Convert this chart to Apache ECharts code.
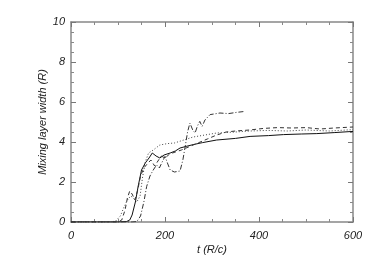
<!DOCTYPE html>
<html>
<head>
<meta charset="utf-8">
<script src="https://cdn.jsdelivr.net/npm/echarts@6/dist/echarts.min.js"></script>
<style>
  html, body { margin: 0; padding: 0; background: #fff; }
  #chart { width: 374px; height: 267px; }
</style>
</head>
<body>
<div id="chart"></div>
<script>
// time (R/c) and mixing layer width (R) for each run
var tSolid = [0, 100, 118, 125, 130, 137, 143, 150, 158, 166, 173, 181, 189, 198, 211, 222, 232, 245, 260, 280, 310, 350, 381, 420, 452, 490, 523, 560, 600]
var wSolid = [0, 0, 0.02, 0.1, 0.35, 1.0, 1.8, 2.6, 2.95, 3.2, 3.45, 3.3, 3.2, 3.35, 3.45, 3.55, 3.7, 3.78, 3.87, 3.97, 4.1, 4.18, 4.28, 4.32, 4.37, 4.4, 4.42, 4.47, 4.53]

var tDot = [0, 85, 95, 105, 112, 120, 127, 133, 140, 147, 152, 158, 165, 175, 189, 205, 220, 240, 260, 290, 310, 350, 381, 420, 460, 500, 550, 600]
var wDot = [0, 0, 0.05, 0.3, 0.7, 1.1, 1.3, 1.2, 1.0, 1.3, 2.2, 3.0, 3.45, 3.6, 3.85, 3.92, 3.95, 4.1, 4.25, 4.37, 4.45, 4.5, 4.55, 4.58, 4.55, 4.6, 4.55, 4.62]

var tDash = [0, 100, 108, 115, 120, 125, 130, 136, 142, 148, 155, 162, 170, 178, 185, 192, 200, 210, 222, 235, 250, 270, 290, 310, 330, 350, 380, 410, 440, 470, 500, 530, 560, 600]
var wDash = [0, 0, 0.1, 0.6, 1.2, 1.55, 1.4, 1.1, 1.6, 2.3, 2.7, 2.9, 3.1, 2.8, 3.05, 3.3, 3.2, 3.4, 3.5, 3.6, 3.75, 3.95, 4.15, 4.35, 4.5, 4.55, 4.6, 4.68, 4.72, 4.7, 4.72, 4.65, 4.7, 4.75]

var tDashDot = [0, 130, 140, 148, 155, 161, 168, 175, 182, 188, 194, 200, 206, 211, 220, 232, 238, 243, 248, 253, 259, 264, 269, 274, 279, 285, 296, 317, 335, 352, 370]
var wDashDot = [0, 0, 0.02, 0.3, 1.0, 1.78, 2.3, 2.6, 2.85, 2.7, 3.0, 3.28, 2.9, 2.6, 2.5, 2.55, 3.1, 3.78, 4.5, 4.95, 4.6, 4.45, 4.8, 5.03, 4.78, 5.1, 5.37, 5.45, 5.42, 5.48, 5.53]

var xTicks = [0, 200, 400, 600]
var yTicks = [0, 2, 4, 6, 8, 10]

function pairs(t, w) {
  return t.map(function (v, i) { return [v, w[i]] })
}

var labelFont = {
  fontFamily: 'Liberation Sans',
  fontStyle: 'italic',
  fontSize: 11,
  color: '#222'
}

function axisBase(min, max, interval, show) {
  return {
    type: 'value',
    min: min,
    max: max,
    interval: interval,
    nameMoveOverlap: false,
    axisLine: { show: true, onZero: false, lineStyle: { color: '#888', width: 1.5 } },
    axisTick: { show: true, inside: true, length: 5, lineStyle: { color: '#777' } },
    minorTick: { show: true, splitNumber: 4, length: 3, lineStyle: { color: '#888' } },
    splitLine: { show: false },
    axisLabel: Object.assign({ show: show }, labelFont)
  }
}

var xBottom = axisBase(xTicks[0], xTicks[xTicks.length - 1], 200, true)
xBottom.position = 'bottom'
xBottom.name = 't (R/c)'
xBottom.nameLocation = 'middle'
xBottom.nameGap = 22
xBottom.nameTextStyle = labelFont
xBottom.axisLabel.margin = 8
var xTop = axisBase(xTicks[0], xTicks[xTicks.length - 1], 200, false)
xTop.position = 'top'

var yLeft = axisBase(yTicks[0], yTicks[yTicks.length - 1], 2, true)
yLeft.position = 'left'
yLeft.name = 'Mixing layer width (R)'
yLeft.nameLocation = 'middle'
yLeft.nameGap = 23
yLeft.nameTextStyle = labelFont
yLeft.axisLabel.margin = 6
var yRight = axisBase(yTicks[0], yTicks[yTicks.length - 1], 2, false)
yRight.position = 'right'

function line(name, t, w, type, color) {
  return {
    name: name,
    type: 'line',
    data: pairs(t, w),
    showSymbol: false,
    symbol: 'none',
    xAxisIndex: 0,
    yAxisIndex: 0,
    lineStyle: { color: color, width: 1, type: type }
  }
}

var chart = echarts.init(document.getElementById('chart'))
chart.setOption({
  animation: false,
  grid: { left: 71, right: 21, top: 22, bottom: 45 },
  xAxis: [xBottom, xTop],
  yAxis: [yLeft, yRight],
  series: [
    line('solid', tSolid, wSolid, 'solid', '#111'),
    line('dotted', tDot, wDot, [1, 2], '#444'),
    line('dashed', tDash, wDash, [4, 3], '#333'),
    line('dashdot', tDashDot, wDashDot, [5, 2, 1, 2], '#333')
  ]
})
</script>
</body>
</html>
